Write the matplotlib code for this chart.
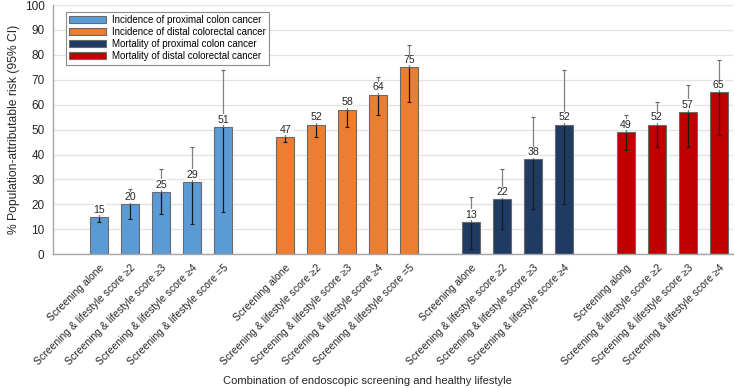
import numpy as np
import matplotlib
matplotlib.use("Agg")
import matplotlib.pyplot as plt
import matplotlib.transforms as mtransforms

plt.rcParams['font.family'] = ['Liberation Sans', 'DejaVu Sans']

series_names = [
    "Incidence of proximal colon cancer",
    "Incidence of distal colorectal cancer",
    "Mortality of proximal colon cancer",
    "Mortality of distal colorectal cancer",
]
colors = ["#5B9BD5", "#ED7D31", "#1F3B63", "#C00000"]

labels_inc_prox = ["Screening alone", "Screening & lifestyle score \u22652",
                   "Screening & lifestyle score \u22653", "Screening & lifestyle score \u22654",
                   "Screening & lifestyle score =5"]
labels_inc_dist = ["Screening alone", "Screening & lifestyle score \u22652",
                   "Screening & lifestyle score \u22653", "Screening & lifestyle score \u22654",
                   "Screening & lifestyle score =5"]
labels_mort_prox = ["Screening alone", "Screening & lifestyle score \u22652",
                    "Screening & lifestyle score \u22653", "Screening & lifestyle score \u22654"]
labels_mort_dist = ["Screening along", "Screening & lifestyle score \u22652",
                    "Screening & lifestyle score \u22653", "Screening & lifestyle score \u22654"]

inc_prox = [15, 20, 25, 29, 51]
inc_prox_lo = [13, 14, 16, 12, 17]
inc_prox_hi = [16, 26, 34, 43, 74]

inc_dist = [47, 52, 58, 64, 75]
inc_dist_lo = [45, 47, 51, 56, 61]
inc_dist_hi = [49, 56, 62, 71, 84]

mort_prox = [13, 22, 38, 52]
mort_prox_lo = [2, 10, 18, 20]
mort_prox_hi = [23, 34, 55, 74]

mort_dist = [49, 52, 57, 65]
mort_dist_lo = [42, 43, 43, 48]
mort_dist_hi = [56, 61, 68, 78]

groups = [
    (labels_inc_prox, inc_prox, inc_prox_lo, inc_prox_hi),
    (labels_inc_dist, inc_dist, inc_dist_lo, inc_dist_hi),
    (labels_mort_prox, mort_prox, mort_prox_lo, mort_prox_hi),
    (labels_mort_dist, mort_dist, mort_dist_lo, mort_dist_hi),
]

fig = plt.figure(figsize=(7.35, 3.88), dpi=100)
ax = fig.add_axes([0.072, 0.345, 0.925, 0.642])

pos = 0
all_ticks, all_labels = [], []
for (labs, vals, lo, hi), name, col in zip(groups, series_names, colors):
    x = np.arange(pos, pos + len(vals))
    ax.bar(x, vals, width=0.58, color=col, edgecolor="#6a6a6a", linewidth=0.8,
           label=name, zorder=2)
    # CI line: dark inside the bar, grey above it
    ax.vlines(x, lo, vals, color="#1a1a1a", linewidth=0.9, zorder=3)
    ax.vlines(x, vals, hi, color="#808080", linewidth=0.9, zorder=3)
    ax.scatter(x, hi, marker="_", s=6, color="#606060", linewidths=0.8, zorder=3)
    ax.scatter(x, lo, marker="_", s=6, color="#1a1a1a", linewidths=0.8, zorder=3)
    for xi, v in zip(x, vals):
        ax.text(xi, v + 0.9, f"{v}", ha="center", va="bottom", fontsize=7.6,
                color="#262626", zorder=4,
                bbox=dict(facecolor="white", edgecolor="none", pad=0.3))
    all_ticks.extend(x)
    all_labels.extend(labs)
    pos += len(vals) + 1

ax.set_xlim(-1.5, 20.45)
ax.set_ylim(0, 100)
ax.set_yticks(np.arange(0, 101, 10))
ax.set_xticks(all_ticks)
ax.set_xticklabels(all_labels, rotation=45, ha="right", rotation_mode="anchor",
                   fontsize=7.5, color="#262626")
shift = mtransforms.ScaledTranslation(3 / 100, 0, fig.dpi_scale_trans)
for lab in ax.get_xticklabels():
    lab.set_transform(lab.get_transform() + shift)
ax.tick_params(axis="x", length=0, pad=6)
ax.tick_params(axis="y", length=0, labelsize=8.5, labelcolor="#262626", pad=6)
ax.grid(axis="y", color="#e3e3e3", linewidth=0.9, zorder=0)
ax.set_axisbelow(True)
for s in ["top", "right"]:
    ax.spines[s].set_visible(False)
for s in ["left", "bottom"]:
    ax.spines[s].set_color("#a6a6a6")
    ax.spines[s].set_linewidth(1)

ax.set_ylabel("% Population-attributable risk (95% CI)", fontsize=8.7, color="#262626")
ax.yaxis.set_label_coords(-0.049, 0.5)
fig.text(0.5, 0.018, "Combination of endoscopic screening and healthy lifestyle",
         ha="center", va="center", fontsize=8, color="#262626")

leg = ax.legend(loc="upper left", bbox_to_anchor=(0.012, 0.992), fontsize=7,
                handlelength=3.8, handleheight=0.75, fancybox=False, framealpha=1,
                edgecolor="#8c8c8c", borderpad=0.35, labelspacing=0.2,
                handletextpad=0.6)
leg.get_frame().set_linewidth(0.8)

fig.savefig("out.png", dpi=100)
